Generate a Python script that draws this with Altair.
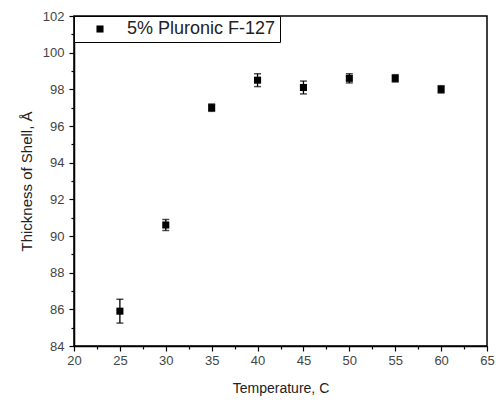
import altair as alt
import pandas as pd

temps = [25, 30, 35, 40, 45, 50, 55, 60]
thickness = [85.9, 90.6, 97.0, 98.5, 98.1, 98.6, 98.6, 98.0]
errors = [0.65, 0.3, 0.2, 0.35, 0.35, 0.25, 0.2, 0.2]
series_name = "5% Pluronic F-127"
x_ticks = [20 + 2.5 * i for i in range(19)]
y_ticks = list(range(84, 103))

df = pd.DataFrame({
    "T": temps,
    "thk": thickness,
    "lo": [t - e for t, e in zip(thickness, errors)],
    "hi": [t + e for t, e in zip(thickness, errors)],
    "series": [series_name] * len(temps),
})

FONT = "Liberation Sans"

x_axis = alt.Axis(
    values=x_ticks,
    labelExpr="datum.value % 5 === 0 ? datum.label : ''",
    tickSize={"condition": {"test": "datum.value % 5 === 0", "value": 5}, "value": 3},
    grid=False, domainColor="black", domainWidth=1.5, tickColor="black", tickWidth=1.2,
    labelColor="#444", labelFontSize=13, labelFont=FONT, labelPadding=3,
    titleFont=FONT, titleFontSize=14, titleFontWeight="normal", titleColor="#222", titlePadding=14,
    labelFlush=False, labelOverlap=False,
)
y_axis = alt.Axis(
    values=y_ticks,
    labelExpr="datum.value % 2 === 0 ? datum.label : ''",
    tickSize={"condition": {"test": "datum.value % 2 === 0", "value": 5}, "value": 3},
    grid=False, domainColor="black", domainWidth=1.5, tickColor="black", tickWidth=1.2,
    labelColor="#444", labelFontSize=13, labelFont=FONT, labelPadding=5,
    titleFont=FONT, titleFontSize=15, titleFontWeight="normal", titleColor="#222", titlePadding=8,
    labelFlush=False, labelOverlap=False,
)

xenc = alt.X("T:Q", scale=alt.Scale(domain=[20, 65], nice=False, zero=False),
             axis=x_axis, title="Temperature, C")
yscale = alt.Scale(domain=[84, 102], nice=False, zero=False)
ytitle = "Thickness of Shell, Å"

base = alt.Chart(df)

rules = base.mark_rule(color="black", strokeWidth=1.3).encode(
    x=xenc,
    y=alt.Y("lo:Q", scale=yscale, axis=y_axis, title=ytitle),
    y2="hi:Q",
)
cap_lo = base.mark_tick(color="black", orient="horizontal", size=7, thickness=1.5).encode(
    x=xenc, y=alt.Y("lo:Q", scale=yscale, axis=y_axis, title=ytitle))
cap_hi = base.mark_tick(color="black", orient="horizontal", size=7, thickness=1.5).encode(
    x=xenc, y=alt.Y("hi:Q", scale=yscale, axis=y_axis, title=ytitle))

points = base.mark_point(shape="square", filled=True, opacity=1, size=50).encode(
    x=xenc,
    y=alt.Y("thk:Q", scale=yscale, axis=y_axis, title=ytitle),
    color=alt.Color("series:N", scale=alt.Scale(range=["black"]),
                    legend=alt.Legend(
                        title=None, orient="none", legendX=0, legendY=0,
                        strokeColor="black", fillColor="white", padding=4,
                        symbolType="square", symbolSize=50, symbolOffset=13,
                        labelOffset=18, labelFontSize=18, labelFont=FONT,
                        labelColor="#222", symbolStrokeWidth=0)),
)

chart = alt.layer(rules, cap_lo, cap_hi, points).properties(
    width=413, height=330,
    padding={"left": 74, "top": 16, "right": 12, "bottom": 56},
    autosize=alt.AutoSizeParams(type="none"),
).configure_view(stroke="black", strokeWidth=1.5)

chart.save("out.html", embed_options={"renderer": "svg", "actions": False})
